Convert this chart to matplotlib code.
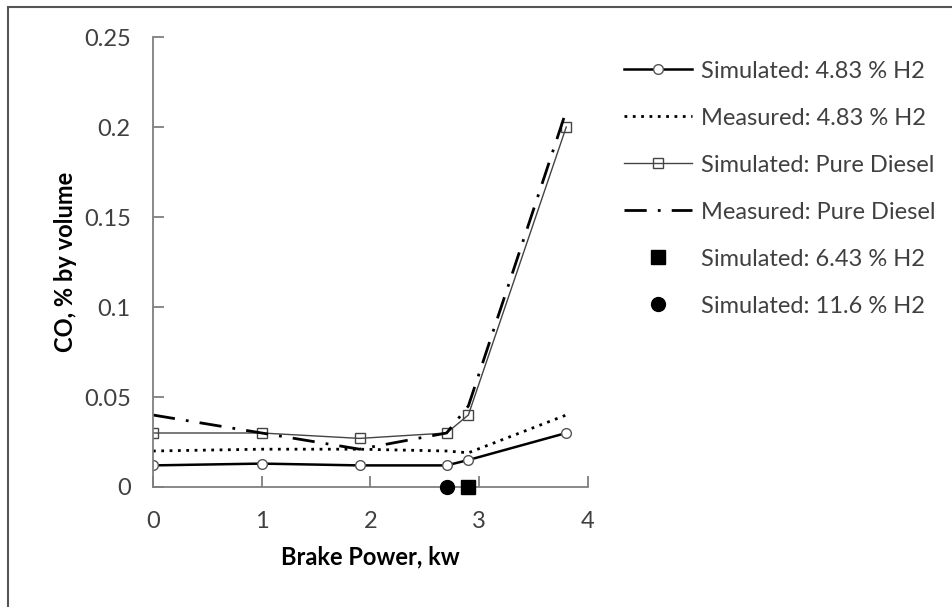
import matplotlib.pyplot as plt
from matplotlib.patches import Rectangle

plt.rcParams['font.family'] = ['Lato', 'DejaVu Sans']

power = [0, 1, 1.9, 2.7, 2.9, 3.8]
sim_h2 = [0.012, 0.013, 0.012, 0.012, 0.015, 0.030]
meas_h2 = [0.020, 0.021, 0.021, 0.020, 0.019, 0.040]
sim_diesel = [0.030, 0.030, 0.027, 0.030, 0.040, 0.200]
meas_diesel = [0.040, 0.030, 0.021, 0.030, 0.045, 0.209]
sim_643 = ([2.9], [0.0])
sim_116 = ([2.7], [0.0])

fig = plt.figure(figsize=(9.53, 6.07), dpi=100)
ax = fig.add_axes([0.1605, 0.1977, 0.4565, 0.7413])

ax.plot(power, sim_h2, color='black', lw=1.8, marker='o', ms=7, mfc='white', mec='#555555', mew=1,
        label='Simulated: 4.83 % H2')
ax.plot(power, meas_h2, color='black', lw=2, ls=(0, (1, 2)), label='Measured: 4.83 % H2')
ax.plot(power, sim_diesel, color='#444444', lw=1, marker='s', ms=7, mfc='none', mec='#444444', mew=1,
        label='Simulated: Pure Diesel')
ax.plot(power, meas_diesel, color='black', lw=2, ls=(0, (8, 4, 1, 4)), label='Measured: Pure Diesel')
ax.plot(sim_643[0], sim_643[1], ls='none', marker='s', ms=10, color='black', label='Simulated: 6.43 % H2',
        clip_on=False, zorder=5)
ax.plot(sim_116[0], sim_116[1], ls='none', marker='o', ms=10, color='black', label='Simulated: 11.6 % H2',
        clip_on=False, zorder=5)

ax.set_xlim(0, 4)
ax.set_ylim(0, 0.25)
ax.set_xticks([0, 1, 2, 3, 4])
ax.set_yticks([0, 0.05, 0.1, 0.15, 0.2, 0.25])
ax.set_yticklabels(['0', '0.05', '0.1', '0.15', '0.2', '0.25'])
for s in ['top', 'right']:
    ax.spines[s].set_visible(False)
for s in ['left', 'bottom']:
    ax.spines[s].set_color('#7f7f7f')
    ax.spines[s].set_linewidth(1.3)
ax.tick_params(direction='in', length=8, width=1.3, color='#7f7f7f', labelsize=17, labelcolor='#404040')
ax.tick_params(axis='y', pad=16)
ax.tick_params(axis='x', pad=17)
ax.set_xlabel('Brake Power, kw', fontsize=17, fontweight='bold', labelpad=10)
ax.set_ylabel('CO, % by volume', fontsize=17, fontweight='bold')
ax.yaxis.set_label_coords(-0.175, 0.5)

fig.legend(loc='upper left', bbox_to_anchor=(0.6325, 0.935), frameon=False, fontsize=17,
           labelspacing=1.1, handlelength=2.9, handletextpad=0.35, labelcolor='#404040')

fig.add_artist(Rectangle((8 / 953, -0.1), 2, 1.1 - 7 / 607, transform=fig.transFigure,
                         fill=False, ec='#555555', lw=1.5))

fig.savefig('out.png', dpi=100)
